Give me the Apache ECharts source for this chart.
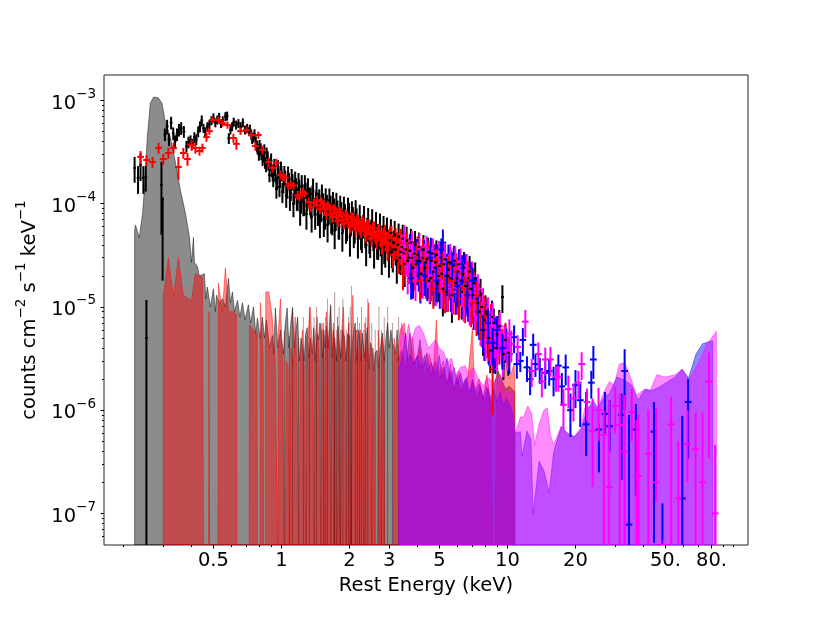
<!DOCTYPE html>
<html>
<head>
<meta charset="utf-8">
<style>html,body{margin:0;background:#fff}#chart{width:830px;height:623px}</style>
<script src="https://cdn.jsdelivr.net/npm/echarts@6/dist/echarts.min.js"></script>
</head>
<body>
<div id="chart"></div>
<script>
// all flux values below are in units of 1e-6 counts cm-2 s-1 keV-1
const UNIT = 1e-6;
const xMin = 0.164, xMax = 116;
const yMin = 4.95e-8, yMax = 1.765e-3;

const xTickValues = [0.5, 1, 2, 3, 5, 10, 20, 50, 80];
const xTickLabels = ['0.5', '1', '2', '3', '5', '10', '20', '50.', '80.'];
const xMinorTicks = [0.2, 0.3, 0.4, 0.6, 0.7, 0.8, 0.9, 4, 6, 7, 8, 9, 30, 40, 60, 70, 90, 100];
const yTickValues = [1e-7, 1e-6, 1e-5, 1e-4, 1e-3];
const yMinorTicks = [6e-8, 7e-8, 8e-8, 9e-8, 2e-7, 3e-7, 4e-7, 5e-7, 6e-7, 7e-7, 8e-7, 9e-7,
    2e-6, 3e-6, 4e-6, 5e-6, 6e-6, 7e-6, 8e-6, 9e-6, 2e-5, 3e-5, 4e-5, 5e-5, 6e-5, 7e-5, 8e-5, 9e-5,
    2e-4, 3e-4, 4e-4, 5e-4, 6e-4, 7e-4, 8e-4, 9e-4];

// background bands, upper edge. 0 means the band drops off the bottom of the plot
const greyE = [0.224, 0.226, 0.235, 0.243, 0.246, 0.255, 0.263, 0.272, 0.285, 0.296, 0.305, 0.322, 0.338, 0.357, 0.376, 0.392, 0.4, 0.408, 0.412, 0.425, 0.433, 0.456, 0.463, 0.47, 0.485, 0.5, 0.51, 0.516, 0.53, 0.548, 0.565, 0.583, 0.595, 0.607, 0.62, 0.639, 0.655, 0.672, 0.69, 0.714, 0.73, 0.752, 0.77, 0.783, 0.805, 0.824, 0.84, 0.858, 0.885, 0.912, 0.925, 0.94, 0.965, 0.99,
    1.0, 1.02, 1.04, 1.06, 1.08, 1.1, 1.12, 1.14, 1.16, 1.18, 1.2, 1.22, 1.24, 1.26, 1.28, 1.3, 1.32, 1.345, 1.37, 1.39, 1.41, 1.44, 1.46, 1.48, 1.5, 1.52, 1.54, 1.56, 1.58, 1.61, 1.65, 1.68, 1.7, 1.71, 1.715, 1.72, 1.75, 1.78, 1.8, 1.83, 1.86, 1.9, 1.93, 1.96, 2, 2.02, 2.04, 2.045, 2.05, 2.08, 2.12, 2.15, 2.19, 2.22, 2.25, 2.28, 2.33, 2.37, 2.4, 2.44, 2.48, 2.52, 2.56, 2.6, 2.65, 2.69, 2.74, 2.8, 2.85, 2.9, 2.95, 3, 3.05, 3.1, 3.2, 3.25, 3.3,
    3.4, 3.55, 3.7, 3.85, 4, 4.1, 4.25, 4.4, 4.6, 4.8, 5, 5.2, 5.4, 5.6, 5.8, 6, 6.2, 6.5, 6.8, 7, 7.3, 7.6, 7.9, 8.2, 8.5, 8.8, 9.1, 9.4, 9.8, 10.2, 10.5, 10.75];
const greyTop = [55, 62, 47, 81, 116, 443, 945, 1080, 1060, 945, 647, 443, 265, 136, 81, 47, 27, 47, 27, 24.6, 20, 21, 12, 15.6, 10, 15, 9, 13, 11, 12, 10, 19, 11, 14, 9, 11.6, 8, 11, 7.5, 10.5, 7, 10, 5.5, 7.8, 5, 8, 5, 7.5, 4, 5.3, 3.5, 9.8, 4, 6,
    5, 3.5, 7, 9.8, 4, 7, 9.8, 4, 6, 8, 3, 5, 4.1, 3, 5.5, 6.3, 3.2, 5, 3.5, 6.3, 3, 5.5, 4.8, 7, 6, 3.2, 6, 4, 6.5, 4, 10.5, 3.2, 6, 0, 0, 5, 3, 6.5, 4.6, 3.2, 6, 5.1, 3, 5.5, 5.3, 3, 0, 0, 4, 5.5, 7, 3, 6, 5.3, 3, 5.6, 3.2, 5, 6.3, 2.5, 4.5, 3.8, 2.4, 3.6, 3.8, 2.5, 4, 5.6, 3, 5, 7, 4, 6, 4.5, 3.5, 6, 3,
    3.8, 2.5, 5.6, 2.8, 3.4, 4.8, 2.6, 3.6, 2.2, 3, 2, 2.6, 1.8, 2.4, 1.6, 2.2, 1.5, 2, 1.4, 1.9, 1.3, 1.7, 1.2, 1.6, 1.1, 1.9, 2.4, 2, 1.6, 1.7, 1.6, 1.5];

const redBandE = [0.3, 0.316, 0.333, 0.35, 0.368, 0.4, 0.416, 0.447, 0.452, 0.476, 0.478, 0.481, 0.524, 0.526, 0.548, 0.565, 0.583, 0.613, 0.632, 0.635, 0.72, 0.722, 0.752, 0.78, 0.783, 0.805, 0.807, 0.83, 0.833, 0.85, 0.852, 0.88, 0.91, 0.94, 0.96, 0.965,
    0.97, 0.99, 1.01, 1.03, 1.04, 1.05, 1.07, 1.08, 1.09, 1.1, 1.13, 1.15, 1.17, 1.19, 1.2, 1.21, 1.24, 1.26, 1.28, 1.29, 1.3, 1.34, 1.37, 1.39, 1.4, 1.41, 1.44, 1.47, 1.49, 1.5, 1.51, 1.54, 1.56, 1.57, 1.58, 1.61, 1.63, 1.65, 1.66, 1.67, 1.7, 1.73, 1.75, 1.76, 1.77, 1.8, 1.82, 1.83, 1.85, 1.88, 1.91, 1.93, 1.94, 1.96, 1.99, 2.01, 2.02, 2.04, 2.07, 2.1, 2.12, 2.13, 2.15, 2.19, 2.21, 2.22, 2.24, 2.28, 2.31, 2.32, 2.34, 2.38, 2.43, 2.47, 2.5, 2.52, 2.54, 2.57, 2.58, 2.66, 2.68, 2.72, 2.76, 2.78, 2.8, 2.84, 2.86, 3.13,
    3.15, 3.25, 3.35, 3.5, 3.65, 3.8, 3.95, 4.1, 4.3, 4.5, 4.7, 4.85, 4.95, 5.2, 5.4, 5.6, 5.8, 6.1, 6.4, 6.7, 7, 7.15, 7.5, 7.8, 8.1, 8.4, 8.6, 8.8, 9, 9.3, 9.6, 9.8, 10.2, 10.7, 10.8];
const redBandTop = [12.5, 30, 12.5, 30, 13, 11.5, 21, 19.5, 0, 0, 9, 0, 0, 17, 9, 24, 9, 9, 8.5, 0, 0, 6.7, 6, 5.5, 0, 0, 11, 3.4, 0, 0, 14, 14, 8, 2.8, 0, 0,
    6, 12, 3, 0, 0, 3, 2.6, 0, 0, 4, 2.8, 8, 2.5, 0, 0, 3, 6, 2.6, 0, 0, 4, 10, 4, 0, 0, 5, 8, 3, 0, 0, 7, 3.5, 0, 0, 9, 4, 6, 0, 0, 4, 7, 3, 0, 0, 8, 3, 0, 0, 6, 10, 3, 0, 0, 5, 7, 0, 0, 5, 13, 3, 0, 0, 6, 3.5, 0, 0, 6, 3, 0, 0, 7, 3, 11, 3.5, 0, 0, 4, 3, 0, 0, 6, 3, 0, 0, 5, 3, 0, 0,
    5, 3, 6, 7, 2.5, 5, 2.2, 4, 2, 3.5, 2.4, 7.5, 2.2, 3, 1.8, 2.8, 1.5, 2.4, 1.5, 2.2, 6.3, 1.6, 2, 1.3, 2.2, 1.3, 0, 0, 2.6, 1.7, 2.4, 3.2, 2, 2.8, 1.5];

// band edges that fall to the bottom of the plot and show as dark stripes
const stripeE = [1.03, 1.085, 1.12, 1.19, 1.25, 1.285, 1.33, 1.395, 1.43, 1.495, 1.535, 1.565, 1.6, 1.655, 1.72, 1.755, 1.8, 1.825, 1.87, 1.935, 1.98, 2.015, 2.04, 2.125, 2.17, 2.215, 2.26, 2.315, 2.36, 2.41, 2.51, 2.6, 2.7, 2.77, 2.85, 2.95, 3.1, 3.3];
const stripeTop = [3, 2.6, 5, 2.5, 4, 2.6, 5, 4, 5, 3, 3.5, 4, 6, 5, 7, 3, 5, 3, 6, 3, 4, 5, 8, 3, 4, 3.5, 5, 3, 4, 6, 3.5, 3, 5, 3, 4, 5, 3.5, 4];

const blueBandE = [3.31, 3.42, 3.54, 3.62, 3.7, 3.85, 4, 4.15, 4.3, 4.45, 4.6, 4.8, 5, 5.15, 5.4, 5.6, 5.8, 6, 6.2, 6.4, 6.6, 6.8, 7, 7.2, 7.5, 7.8, 8.1, 8.4, 8.7, 9, 9.3, 9.6, 9.9, 10.3, 10.6, 10.8, 11.4, 11.6, 12.2, 12.7, 13, 13.8, 14.5, 15.3, 16, 17.3, 18.4, 19.8, 21.2, 22.3, 23.9, 25.1, 26.9, 28.3, 30.5, 33, 35.4, 37.9, 40.6, 43.3, 46.5, 55.3, 59.3, 63.3, 68.3, 73, 81];
const blueBandTop = [2.5, 3.2, 5.6, 3, 3.5, 2.8, 3.4, 2.6, 3.4, 2.4, 2.9, 2.2, 3.4, 2, 3.2, 2, 2.6, 1.8, 2.3, 1.7, 2.1, 1.5, 2, 1.5, 1.8, 1.3, 1.7, 1.3, 1.6, 1.2, 1.5, 1.1, 1.3, 1.1, 0.9, 0.6, 0.62, 0.36, 0.63, 0.52, 0.1, 0.32, 0.26, 0.16, 0.39, 0.69, 0.6, 0.55, 0.65, 0.95, 1.25, 1.05, 1.35, 1.45, 2.1, 1.95, 1.75, 1.25, 1.6, 1.55, 1.65, 2.1, 2.5, 2.05, 3.5, 4.4, 4.7];

const magBandE = [3.31, 3.4, 3.54, 3.65, 3.76, 3.92, 4.08, 4.25, 4.47, 4.8, 5, 5.2, 5.43, 5.65, 5.9, 6.2, 6.5, 6.7, 7.06, 7.37, 7.83, 8.15, 8.68, 9.3, 9.8, 10.5, 10.8, 11.4, 11.8, 12.3, 12.8, 13.2, 13.8, 14.5, 15, 15.5, 16, 17.3, 18.4, 19.8, 21.2, 22, 23.5, 25.1, 26.9, 28.3, 29.7, 31.3, 33, 35, 37.2, 40.6, 42.8, 45.8, 49.9, 55.3, 59.3, 63.3, 69.9, 76.5, 84];
const magBandTop = [2.5, 7, 4.5, 6.8, 4.8, 6.3, 6.6, 5.6, 4, 4.8, 4, 3.7, 2.9, 3.2, 2.2, 2.6, 2.7, 2.3, 2.6, 2.1, 1.7, 2.1, 1.85, 2.2, 1.5, 1.5, 0.58, 0.86, 0.86, 1.1, 0.93, 0.46, 0.73, 1, 1.05, 0.58, 0.46, 0.7, 0.6, 0.56, 0.68, 1.05, 1.1, 1.05, 1.55, 1.9, 1.75, 2.8, 2.9, 2.1, 1.4, 1.6, 1.55, 2.2, 2.1, 2.2, 2.5, 1.95, 2.85, 4.4, 5.8];

// points: energy, flux, fractional error
const blackE = [0.224, 0.232, 0.238, 0.245, 0.251, 0.305, 0.312, 0.318, 0.325, 0.332,
    0.338, 0.345, 0.352, 0.36, 0.37, 0.38, 0.388, 0.396, 0.404, 0.412,
    0.42, 0.428, 0.436, 0.444, 0.452, 0.46, 0.47, 0.48, 0.49, 0.5,
    0.51, 0.52, 0.53, 0.54, 0.55, 0.565, 0.575, 0.585, 0.595, 0.605,
    0.615, 0.63, 0.645, 0.66, 0.675, 0.69, 0.705, 0.72, 0.735, 0.75,
    0.77, 0.785, 0.8, 0.815, 0.83, 0.845, 0.86, 0.875, 0.89, 0.905,
    0.92, 0.94, 0.955, 0.97, 0.985, 1, 1.02, 1.04, 1.06, 1.08,
    1.1, 1.12, 1.14, 1.16, 1.18, 1.2, 1.22, 1.24, 1.26, 1.28,
    1.3, 1.32, 1.35, 1.37, 1.4, 1.42, 1.45, 1.47, 1.5, 1.53,
    1.56, 1.59, 1.62, 1.65, 1.68, 1.71, 1.74, 1.77, 1.8, 1.84,
    1.87, 1.91, 1.95, 1.99, 2.03, 2.07, 2.11, 2.15, 2.2, 2.25,
    2.3, 2.35, 2.4, 2.45, 2.5, 2.55, 2.6, 2.65, 2.7, 2.75,
    2.8, 2.85, 2.9, 2.96, 3.02, 3.08, 3.14, 3.2, 3.27, 3.34,
    3.41, 3.48, 3.55, 3.62, 3.7, 3.78, 3.86, 3.94, 4.02, 4.1,
    4.2, 4.3, 4.4, 4.5, 4.6, 4.7, 4.8, 4.9, 5, 5.12,
    5.24, 5.36, 5.48, 5.6, 5.75, 5.9, 6.05, 6.2, 6.35, 6.5,
    6.7, 6.9, 7.1, 7.3, 7.5, 7.7, 7.9, 8.1, 8.4, 8.7,
    9, 9.5, 9.8, 10.1,
    0.725, 0.742, 0.76, 0.78, 0.795, 0.81, 0.825, 0.84, 0.855, 0.87,
    0.885, 0.9, 0.915, 0.93, 0.95, 0.965, 0.98, 0.995, 1.01, 1.03,
    1.05, 1.07, 1.09, 1.11, 1.13, 1.15, 1.17, 1.19, 1.21, 1.23,
    1.25, 1.27, 1.29, 1.31, 1.34, 1.36, 1.38, 1.41, 1.43, 1.46,
    1.48, 1.51, 1.54, 1.57, 1.6, 1.63, 1.66, 1.69, 1.72, 1.75,
    1.79, 1.82, 1.86, 1.89, 1.93, 1.97, 2.01, 2.05, 2.09, 2.13,
    2.18, 2.22, 2.27, 2.32, 2.37, 2.42, 2.47, 2.52, 2.57, 2.62,
    2.68, 2.73, 2.78, 2.83, 2.88, 2.93, 2.99, 3.05, 3.11, 3.17,
    3.24, 3.3, 3.37, 3.44, 3.51, 3.58, 3.66, 3.74, 3.82, 3.9,
    3.98, 4.06, 4.15, 4.25, 4.35, 4.45, 4.55, 4.65, 4.75, 4.85,
    4.95, 5.06, 5.18, 5.3, 5.42, 5.54, 5.68, 5.82, 5.98, 6.12,
    6.28, 6.42, 6.6, 6.8, 7, 7.2, 7.4, 7.6, 7.8, 8,
    8.25, 8.55, 8.85, 9.2, 9.6];
const blackY = [222, 178, 237, 178, 182, 470, 560, 420, 610, 480,
    400, 470, 520, 540, 500, 360, 395, 410, 380, 440,
    420, 500, 560, 640, 540, 500, 560, 590, 640, 680,
    610, 650, 690, 600, 640, 700, 710, 430, 520, 560,
    620, 580, 600, 560, 610, 520, 540, 500, 470, 440,
    400, 340, 370, 300, 290, 250, 310, 240, 240, 210,
    170, 190, 160, 205, 170, 200, 150, 180, 135, 170,
    128, 165, 120, 150, 105, 145, 100, 130, 95, 135,
    105, 120, 90, 125, 95, 110, 78, 115, 85, 105,
    72, 100, 80, 98, 65, 92, 72, 88, 60, 85,
    70, 80, 58, 82, 65, 75, 55, 72, 60, 48,
    62, 50, 58, 44, 56, 47, 52, 40, 50, 43,
    48, 36, 46, 40, 44, 34, 42, 36, 40, 30,
    38, 33, 36, 28, 35, 30, 33, 26, 32, 28,
    30, 24, 29, 18, 28, 22, 27, 17, 25, 21,
    26, 14, 23, 19, 25, 17, 22, 18, 21, 16,
    19, 15, 17, 12, 9, 10, 7.5, 8.5, 3.8, 7,
    5.4, 12.5, 4.8, 3.6,
    520, 430, 470, 360, 300, 340, 270, 330, 235, 280,
    190, 260, 200, 230, 140, 220, 145, 210, 130, 190,
    120, 185, 115, 175, 100, 165, 115, 160, 85, 150,
    105, 150, 80, 140, 110, 75, 135, 80, 125, 100,
    68, 120, 70, 110, 62, 108, 75, 100, 55, 98,
    68, 92, 52, 90, 62, 88, 48, 80, 58, 82,
    46, 74, 52, 72, 40, 68, 48, 66, 38, 62,
    46, 60, 34, 56, 40, 54, 32, 52, 36, 50,
    28, 48, 34, 46, 26, 44, 30, 42, 24, 40,
    28, 38, 21, 36, 27, 34, 19, 33, 24, 32,
    20, 30, 15, 29, 20, 27, 13, 28, 19, 26,
    14, 24, 16, 22, 13, 19, 11, 13, 6, 9,
    5, 8, 4, 6.5, 3.5];
const blackErr = [0.28, 0.3, 0.3, 0.3, 0.28, 0.14, 0.16, 0.14, 0.14, 0.14,
    0.15, 0.14, 0.14, 0.14, 0.13, 0.13, 0.13, 0.12, 0.12, 0.12,
    0.12, 0.12, 0.12, 0.12, 0.1, 0.1, 0.1, 0.1, 0.1, 0.1,
    0.1, 0.1, 0.1, 0.1, 0.1, 0.1, 0.1, 0.12, 0.1, 0.1,
    0.1, 0.1, 0.1, 0.1, 0.1, 0.1, 0.1, 0.1, 0.11, 0.11,
    0.12, 0.12, 0.12, 0.12, 0.13, 0.13, 0.13, 0.13, 0.14, 0.14,
    0.15, 0.15, 0.15, 0.15, 0.16, 0.16, 0.16, 0.16, 0.17, 0.17,
    0.17, 0.17, 0.18, 0.18, 0.18, 0.18, 0.2, 0.18, 0.2, 0.18,
    0.2, 0.2, 0.2, 0.2, 0.2, 0.2, 0.22, 0.2, 0.22, 0.2,
    0.22, 0.22, 0.22, 0.22, 0.24, 0.22, 0.24, 0.22, 0.25, 0.22,
    0.24, 0.24, 0.25, 0.24, 0.25, 0.24, 0.25, 0.25, 0.25, 0.26,
    0.26, 0.26, 0.26, 0.26, 0.26, 0.26, 0.28, 0.28, 0.28, 0.28,
    0.28, 0.28, 0.28, 0.3, 0.3, 0.3, 0.3, 0.3, 0.3, 0.3,
    0.3, 0.3, 0.3, 0.3, 0.3, 0.3, 0.32, 0.32, 0.32, 0.32,
    0.32, 0.32, 0.32, 0.34, 0.32, 0.34, 0.34, 0.34, 0.34, 0.34,
    0.34, 0.36, 0.34, 0.36, 0.34, 0.36, 0.36, 0.36, 0.36, 0.36,
    0.36, 0.38, 0.36, 0.38, 0.38, 0.38, 0.38, 0.38, 0.4, 0.38,
    0.4, 0.3, 0.4, 0.4,
    0.12, 0.12, 0.12, 0.13, 0.13, 0.13, 0.14, 0.14, 0.14, 0.15,
    0.15, 0.18, 0.18, 0.18, 0.2, 0.2, 0.2, 0.22, 0.22, 0.22,
    0.24, 0.24, 0.26, 0.24, 0.26, 0.24, 0.26, 0.24, 0.28, 0.26,
    0.28, 0.26, 0.3, 0.26, 0.3, 0.3, 0.3, 0.3, 0.28, 0.28,
    0.32, 0.28, 0.32, 0.28, 0.32, 0.3, 0.32, 0.3, 0.34, 0.3,
    0.34, 0.3, 0.34, 0.3, 0.34, 0.3, 0.36, 0.32, 0.36, 0.32,
    0.36, 0.32, 0.36, 0.32, 0.38, 0.34, 0.38, 0.34, 0.38, 0.34,
    0.38, 0.34, 0.4, 0.36, 0.4, 0.36, 0.4, 0.36, 0.4, 0.36,
    0.4, 0.34, 0.4, 0.36, 0.4, 0.36, 0.4, 0.36, 0.42, 0.36,
    0.42, 0.38, 0.42, 0.38, 0.42, 0.38, 0.44, 0.38, 0.44, 0.38,
    0.44, 0.4, 0.46, 0.4, 0.44, 0.4, 0.46, 0.4, 0.44, 0.4,
    0.46, 0.42, 0.46, 0.42, 0.46, 0.42, 0.46, 0.44, 0.44, 0.44,
    0.44, 0.44, 0.44, 0.44, 0.44];
// points whose bars are far from symmetric: energy, flux, low, high (low 0 = off the plot)
const blackWideE = [0.2526, 0.2945, 0.298];
const blackWideY = [5, 152, 110];
const blackWideLo = [0, 50, 18];
const blackWideHi = [11.7, 255, 115];

const redE = [0.238, 0.253, 0.269, 0.286, 0.3, 0.316, 0.333, 0.35, 0.368, 0.384,
    0.4, 0.416, 0.434, 0.447, 0.466, 0.48, 0.495, 0.526, 0.548, 0.577,
    0.613, 0.632, 0.659, 0.7, 0.736, 0.767, 0.79, 0.824, 0.876, 0.912,
    0.95, 0.99, 1.04, 1.1, 1.18, 1.24, 1.32, 1.39, 1.44, 1.5,
    1.55, 1.6, 1.65, 1.7, 1.75, 1.8, 1.86, 1.92, 1.98, 2.04,
    2.1, 2.16, 2.22, 2.28, 2.34, 2.4, 2.47, 2.54, 2.61, 2.68,
    2.75, 2.83, 2.91, 2.99, 3.07, 3.15, 3.24, 3.33, 3.42, 3.52,
    3.62, 3.72, 3.83, 3.94, 4.05, 4.17, 4.29, 4.41, 4.54, 4.67,
    4.8, 4.94, 5.08, 5.23, 5.38, 5.54, 5.7, 5.87, 6.04, 6.22,
    6.4, 6.6, 6.8, 7, 7.2, 7.4, 7.6, 7.8, 8, 8.3,
    8.9, 9.2, 9.5, 9.8,
    1.02, 1.07, 1.13, 1.2, 1.27, 1.35, 1.43, 1.48, 1.53, 1.58,
    1.63, 1.68, 1.72, 1.78, 1.83, 1.89, 1.95, 2.01, 2.07, 2.13,
    2.19, 2.25, 2.31, 2.37, 2.43, 2.5, 2.57, 2.64, 2.71, 2.79,
    2.87, 2.95, 3.03, 3.11, 3.2, 3.28, 3.38, 3.47, 3.57, 3.67,
    3.77, 3.88, 4, 4.11, 4.23, 4.35, 4.48, 4.6, 4.73, 4.87,
    5, 5.15, 5.3, 5.46, 5.62, 5.78, 5.95, 6.13, 6.3, 6.5,
    6.7, 6.9, 7.1, 7.3, 7.5, 7.7, 7.9, 8.15, 8.45, 8.75];
const redY = [284, 265, 253, 347, 271, 310, 347, 227, 310, 271,
    370, 347, 324, 347, 442, 505, 647, 647, 605, 579,
    433, 380, 505, 518, 463, 362, 463, 332, 253, 222,
    248, 190, 178, 152, 121, 130, 104, 102, 97, 105,
    88, 96, 80, 90, 75, 84, 70, 78, 66, 74,
    62, 70, 58, 66, 55, 62, 52, 58, 48, 54,
    46, 50, 42, 47, 50, 38, 42, 36, 40, 28,
    36, 30, 33, 26, 31, 27, 29, 24, 28, 23,
    26, 21, 25, 20, 24, 18, 22, 17, 20, 16,
    19, 15, 17, 13, 14, 10, 9.5, 7, 8.5, 6,
    5, 4.6, 4.4, 5,
    180, 150, 150, 115, 125, 92, 108, 88, 100, 78,
    92, 74, 88, 68, 82, 64, 76, 60, 72, 56,
    68, 54, 64, 50, 60, 46, 58, 44, 54, 40,
    52, 36, 50, 32, 46, 30, 44, 26, 40, 26,
    38, 23, 36, 22, 34, 20, 32, 19, 30, 18,
    30, 16, 28, 15, 26, 14, 24, 13, 22, 12,
    20, 11, 16, 9, 12, 7, 9, 5.5, 7.5, 4.5];
const redErr = [0.14, 0.12, 0.12, 0.12, 0.12, 0.12, 0.12, 0.25, 0.12, 0.14,
    0.12, 0.12, 0.1, 0.1, 0.1, 0.08, 0.08, 0.08, 0.08, 0.08,
    0.1, 0.12, 0.08, 0.08, 0.08, 0.1, 0.08, 0.1, 0.1, 0.1,
    0.1, 0.1, 0.1, 0.1, 0.1, 0.1, 0.1, 0.1, 0.1, 0.1,
    0.1, 0.1, 0.1, 0.1, 0.12, 0.12, 0.12, 0.12, 0.12, 0.12,
    0.12, 0.12, 0.14, 0.14, 0.14, 0.14, 0.16, 0.16, 0.16, 0.16,
    0.18, 0.18, 0.2, 0.2, 0.22, 0.26, 0.26, 0.26, 0.26, 0.3,
    0.3, 0.32, 0.3, 0.34, 0.3, 0.32, 0.3, 0.34, 0.3, 0.34,
    0.32, 0.34, 0.32, 0.34, 0.32, 0.36, 0.32, 0.36, 0.34, 0.36,
    0.34, 0.36, 0.36, 0.38, 0.36, 0.38, 0.38, 0.38, 0.38, 0.4,
    0.4, 0.4, 0.4, 0.4,
    0.08, 0.08, 0.08, 0.08, 0.08, 0.1, 0.1, 0.1, 0.1, 0.1,
    0.1, 0.12, 0.12, 0.12, 0.12, 0.12, 0.12, 0.14, 0.14, 0.14,
    0.14, 0.14, 0.14, 0.16, 0.16, 0.16, 0.16, 0.18, 0.18, 0.2,
    0.2, 0.22, 0.22, 0.26, 0.26, 0.3, 0.3, 0.36, 0.32, 0.36,
    0.34, 0.38, 0.34, 0.38, 0.36, 0.4, 0.36, 0.4, 0.36, 0.4,
    0.36, 0.4, 0.36, 0.4, 0.38, 0.4, 0.38, 0.4, 0.38, 0.42,
    0.4, 0.42, 0.4, 0.42, 0.42, 0.42, 0.42, 0.42, 0.42, 0.42];
const redWideE = [8.6];
const redWideY = [2.5];
const redWideLo = [0.9];
const redWideHi = [6.5];
// red and blue bins that lie over the magenta ones
const redOverE = [3.3, 3.45, 3.6, 3.8, 3.95, 4.1, 4.25, 4.4, 4.55, 4.7, 4.85, 5, 5.15, 5.3, 5.5, 5.7, 5.9, 6.1, 6.3, 6.5, 6.75, 7, 7.3, 7.6, 7.9, 8.3];
const redOverY = [42, 22, 36, 25, 33, 18, 30, 24, 29, 15, 28, 20, 26, 14, 24, 18, 22, 12, 21, 15, 18, 11, 13, 8, 8, 5];
const redOverErr = [0.24, 0.34, 0.26, 0.3, 0.26, 0.36, 0.28, 0.3, 0.28, 0.36, 0.3, 0.32, 0.3, 0.38, 0.3, 0.32, 0.32, 0.38, 0.32, 0.34, 0.34, 0.38, 0.36, 0.4, 0.38, 0.4];
const blueOverE = [3.75, 4.05, 4.3, 4.55, 4.85, 5.1, 5.4, 5.7, 6, 6.3, 6.65, 7, 7.4, 7.8, 8.2, 8.6, 9, 9.5];
const blueOverY = [19, 27, 20, 30, 18, 36, 20, 26, 16, 24, 13, 18, 9, 6, 7, 4.5, 6, 4];
const blueOverErr = [0.38, 0.32, 0.36, 0.3, 0.38, 0.28, 0.36, 0.3, 0.38, 0.32, 0.38, 0.34, 0.4, 0.4, 0.38, 0.4, 0.36, 0.38];

const blueE = [3.6, 3.75, 3.9, 4.05, 4.2, 4.35, 4.5, 4.65, 4.8, 4.95,
    5.1, 5.25, 5.4, 5.55, 5.7, 5.85, 6, 6.2, 6.4, 6.6,
    6.8, 7, 7.2, 7.4, 7.6, 7.8, 8, 8.2, 8.4, 8.6,
    8.8, 9, 9.3, 9.6, 9.9, 10.2, 10.7, 11.7, 11, 11.4,
    12.2, 12.6, 13, 13.3, 13.9, 14.7, 15.3, 16, 16.8, 17.4,
    18.1, 19, 20, 21, 23.5, 24,
    3.7, 3.82, 3.98, 4.12, 4.28, 4.42, 4.58, 4.72, 4.88, 5.02,
    5.18, 5.32, 5.48, 5.62, 5.78, 5.92, 6.1, 6.3, 6.5, 6.7,
    6.9, 7.1, 7.3, 7.5, 7.7, 7.9, 8.1, 8.3, 8.5, 8.7];
const blueY = [32, 24, 30, 22, 28, 26, 24, 20, 30, 22,
    26, 20, 24, 20, 22, 18, 20, 17, 19, 14,
    16, 14, 15, 11, 8, 6.5, 7.5, 5.5, 6.5, 4.5,
    6, 4.2, 5.2, 3.8, 4.6, 3.5, 5.1, 4.8, 2.8, 3,
    2.6, 2, 4.3, 2.8, 2.5, 2.3, 2.4, 2, 2.7, 1.7,
    2.6, 1, 1.75, 1.25, 1.85, 3.1,
    38, 20, 34, 18, 33, 19, 35, 17, 30, 16,
    42, 18, 30, 15, 28, 14, 26, 13, 24, 12,
    20, 10, 14, 8, 10, 5, 8, 4.5, 7, 3.8];
const blueErr = [0.32, 0.36, 0.32, 0.36, 0.34, 0.34, 0.34, 0.36, 0.34, 0.36,
    0.36, 0.38, 0.36, 0.38, 0.36, 0.38, 0.36, 0.38, 0.36, 0.38,
    0.36, 0.38, 0.36, 0.38, 0.38, 0.38, 0.38, 0.38, 0.36, 0.38,
    0.36, 0.36, 0.34, 0.36, 0.34, 0.36, 0.3, 0.3, 0.28, 0.22,
    0.28, 0.3, 0.28, 0.25, 0.28, 0.3, 0.28, 0.32, 0.28, 0.35,
    0.33, 0.45, 0.4, 0.45, 0.3, 0.35,
    0.34, 0.4, 0.34, 0.4, 0.34, 0.4, 0.34, 0.4, 0.34, 0.4,
    0.34, 0.4, 0.34, 0.4, 0.34, 0.4, 0.36, 0.4, 0.36, 0.4,
    0.36, 0.4, 0.36, 0.4, 0.38, 0.4, 0.38, 0.4, 0.38, 0.4];
const blueWideE = [22.3, 25.4, 27, 28.3, 32, 33, 34.5, 37, 44.5, 48.5, 59.4, 63];
const blueWideY = [0.73, 0.65, 0.92, 0.7, 0.9, 2.4, 0.078, 0.65, 0.62, 0.04, 0.14, 1.2];
const blueWideLo = [0.36, 0.25, 0.6, 0.4, 0.21, 1, 0, 0.15, 0.052, 0, 0, 0.34];
const blueWideHi = [1.5, 0.73, 1.5, 1.25, 1.45, 3.9, 0.9, 1.15, 1.2, 0.125, 0.88, 2];

const magE = [3.4, 3.55, 3.7, 3.85, 4, 4.15, 4.3, 4.45, 4.6, 4.75,
    4.9, 5.05, 5.2, 5.35, 5.5, 5.65, 5.8, 5.95, 6.1, 6.3,
    6.5, 6.7, 6.9, 7.1, 7.3, 7.5, 7.7, 7.9, 8.1, 8.3,
    8.5, 8.8, 9.1, 9.4, 9.7, 10, 10.4, 12, 11.1, 12.8,
    13.7, 14.2, 14.7, 15.5, 16.4, 16.8, 17.7, 18.6, 19.6, 20.6,
    21.3, 22.5,
    3.5, 3.62, 3.78, 3.92, 4.08, 4.22, 4.38, 4.52, 4.68, 4.82,
    4.98, 5.12, 5.28, 5.42, 5.58, 5.72, 5.88, 6.02, 6.2, 6.4,
    6.6, 6.8, 7, 7.2, 7.4, 7.6, 7.8, 8, 8.2, 8.4,
    8.6, 9, 9.25, 9.55, 10.2];
const magY = [38, 30, 34, 26, 32, 26, 31, 24, 29, 22,
    27, 21, 26, 20, 24, 19, 23, 18, 21, 16,
    19, 15, 17, 13, 12, 9, 8, 6.5, 7.5, 6,
    6.5, 5, 5.5, 4.4, 4.8, 3.8, 4.4, 7.2, 4.1, 2.4,
    3.5, 1.9, 3.1, 3.1, 2.1, 2.1, 1.13, 1.6, 1.3, 1.85,
    2.8, 1.2,
    45, 22, 40, 19, 38, 20, 36, 18, 34, 17,
    32, 16, 30, 15, 30, 14, 28, 14, 27, 12,
    24, 11, 20, 10, 15, 7, 11, 5, 9, 4.5,
    8, 4, 6.5, 3.5, 5.5];
const magErr = [0.32, 0.34, 0.32, 0.34, 0.32, 0.34, 0.32, 0.36, 0.32, 0.36,
    0.34, 0.36, 0.34, 0.36, 0.34, 0.36, 0.34, 0.38, 0.34, 0.38,
    0.36, 0.38, 0.36, 0.38, 0.38, 0.38, 0.38, 0.38, 0.38, 0.38,
    0.38, 0.36, 0.38, 0.36, 0.36, 0.36, 0.34, 0.3, 0.3, 0.3,
    0.3, 0.3, 0.3, 0.32, 0.28, 0.28, 0.42, 0.35, 0.4, 0.3,
    0.3, 0.35,
    0.38, 0.4, 0.36, 0.4, 0.36, 0.4, 0.36, 0.4, 0.36, 0.4,
    0.36, 0.4, 0.36, 0.4, 0.36, 0.4, 0.36, 0.4, 0.36, 0.4,
    0.36, 0.4, 0.38, 0.4, 0.38, 0.4, 0.38, 0.4, 0.38, 0.4,
    0.38, 0.4, 0.38, 0.4, 0.38];
const magWideE = [23.8, 25.3, 26.7, 28.2, 30, 31.4, 33, 35.5, 37.2, 38, 42, 45.5, 49, 53, 57, 62.6, 68, 73, 78, 83];
const magWideY = [0.63, 1, 0.58, 0.18, 1.1, 0.72, 0.4, 0.96, 0.23, 0.23, 0.38, 0.2, 0.03, 0.73, 0.14, 0.47, 0.42, 0.2, 1.9, 0.1];
const magWideLo = [0.18, 0.5, 0, 0, 0.6, 0, 0, 0.5, 0, 0, 0, 0.13, 0, 0, 0, 0.2, 0, 0, 0.34, 0];
const magWideHi = [1.3, 1.65, 1, 1.25, 1.7, 1.45, 1.4, 1.6, 0.8, 0.9, 1, 1.05, 0.055, 1.35, 0.5, 1, 0.95, 0.95, 3.6, 0.46];

const clampY = v => Math.max(v * UNIT, yMin);
const noWide = [[], [], [], []];

function band(xs, tops, color) {
    const rows = xs.map((e, i) => [e, clampY(tops[i])]);
    return {
        type: 'custom',
        silent: true,
        clip: true,
        progressive: 0,
        data: rows,
        encode: { x: 0, y: 1 },
        renderItem: (params, api) => {
            if (params.dataIndex !== 0) return null;
            const pts = rows.map(r => api.coord(r));
            pts.unshift(api.coord([rows[0][0], yMin]));
            pts.push(api.coord([rows[rows.length - 1][0], yMin]));
            return {
                type: 'polygon',
                shape: { points: pts },
                style: { fill: color, stroke: color, lineWidth: 1 },
            };
        },
    };
}

function errorBars(xs, ys, errs, wide, color, xFrac, keep, lineWidth) {
    const rows = xs.map((e, i) => [e, clampY(ys[i]), clampY(ys[i] * (1 - errs[i])), clampY(ys[i] * (1 + errs[i]))]);
    wide[0].forEach((e, i) => rows.push([e, clampY(wide[1][i]), clampY(wide[2][i]), clampY(wide[3][i])]));
    return {
        type: 'custom',
        silent: true,
        clip: true,
        progressive: 0,
        data: keep ? rows.filter(keep) : rows,
        encode: { x: 0, y: 1 },
        renderItem: (params, api) => {
            const e = api.value(0), y = api.value(1);
            const lo = api.coord([e, api.value(2)]), hi = api.coord([e, api.value(3)]);
            const l = api.coord([e / xFrac, y]), r = api.coord([e * xFrac, y]);
            const stroke = { stroke: color, lineWidth: lineWidth || 2 };
            return {
                type: 'group',
                children: [
                    { type: 'line', shape: { x1: lo[0], y1: lo[1], x2: hi[0], y2: hi[1] }, style: stroke },
                    { type: 'line', shape: { x1: l[0], y1: l[1], x2: r[0], y2: r[1] }, style: stroke },
                ],
            };
        },
    };
}

const BLACK = '#000000', RED = '#ff0000', BLUE = '#0000ff', MAGENTA = '#ff00ff';
const richText = {
    a: { fontSize: 19.5, color: '#000', fontFamily: 'DejaVu Sans', lineHeight: 26, verticalAlign: 'bottom' },
    b: { fontSize: 13.5, color: '#000', fontFamily: 'DejaVu Sans', lineHeight: 26, verticalAlign: 'top' },
};

const option = {
    backgroundColor: '#fff',
    animation: false,
    textStyle: { fontFamily: 'DejaVu Sans' },
    grid: { left: 104, right: 82, top: 75, height: 470, show: true, borderColor: '#222', borderWidth: 1, backgroundColor: 'transparent' },
    xAxis: [{
        type: 'log', logBase: 10, min: xMin, max: xMax, position: 'bottom',
        name: 'Rest Energy (keV)', nameLocation: 'middle', nameGap: 29,
        nameTextStyle: { fontSize: 19.5, color: '#000', fontFamily: 'DejaVu Sans' },
        axisLine: { show: false },
        splitLine: { show: false },
        minorTick: { show: false },
        axisTick: { show: true, length: 3.5, customValues: xTickValues, lineStyle: { color: '#000' } },
        axisLabel: {
            show: true, margin: 6, fontSize: 19.5, color: '#000', fontFamily: 'DejaVu Sans',
            customValues: xTickValues,
            formatter: v => xTickLabels[xTickValues.findIndex(t => Math.abs(t - v) < t * 1e-6)],
        },
    }, {
        type: 'log', logBase: 10, min: xMin, max: xMax, position: 'bottom',
        axisLine: { show: false },
        splitLine: { show: false },
        axisTick: { show: true, length: 2, customValues: xMinorTicks, lineStyle: { color: '#000' } },
        axisLabel: { show: false },
    }],
    yAxis: [{
        type: 'log', logBase: 10, min: yMin, max: yMax, position: 'left',
        name: '{a|counts cm}{b|−2}{a| s}{b|−1}{a| keV}{b|−1}', nameLocation: 'middle', nameGap: 51, nameRotate: 90,
        nameTextStyle: { color: '#000', rich: richText },
        axisLine: { show: false },
        splitLine: { show: false },
        minorTick: { show: false },
        axisTick: { show: true, length: 3.5, customValues: yTickValues, lineStyle: { color: '#000' } },
        axisLabel: {
            show: true, margin: 8, color: '#000',
            customValues: yTickValues,
            formatter: v => '{a|10}{b|−' + Math.round(-Math.log10(v)) + '}',
            rich: richText,
        },
    }, {
        type: 'log', logBase: 10, min: yMin, max: yMax, position: 'left',
        axisLine: { show: false },
        splitLine: { show: false },
        axisTick: { show: true, length: 2, customValues: yMinorTicks, lineStyle: { color: '#000' } },
        axisLabel: { show: false },
    }],
    series: [
        band(greyE, greyTop, 'rgba(0,0,0,0.45)'),
        band(redBandE, redBandTop, 'rgba(255,0,0,0.45)'),
        errorBars(stripeE, stripeTop, stripeTop.map(() => 1), noWide, 'rgba(80,0,0,0.4)', 1, null, 1),
        band(blueBandE, blueBandTop, 'rgba(0,0,255,0.45)'),
        band(magBandE, magBandTop, 'rgba(255,0,255,0.45)'),
        errorBars(blackE, blackY, blackErr, [blackWideE, blackWideY, blackWideLo, blackWideHi], BLACK, 1.014),
        errorBars(redE, redY, redErr, [redWideE, redWideY, redWideLo, redWideHi], RED, 1.035),
        errorBars(blueE, blueY, blueErr, [blueWideE, blueWideY, blueWideLo, blueWideHi], BLUE, 1.035),
        errorBars(magE, magY, magErr, [magWideE, magWideY, magWideLo, magWideHi], MAGENTA, 1.035),
        errorBars(redOverE, redOverY, redOverErr, noWide, RED, 1.03),
        errorBars(blueOverE, blueOverY, blueOverErr, noWide, BLUE, 1.03),
        // the black bins above 3 keV sit on top of the magenta ones
        errorBars(blackE, blackY, blackY.map(() => 0.02), noWide, BLACK, 1.014, r => r[0] > 3),
    ],
};

echarts.init(document.getElementById('chart'), null, { renderer: 'canvas' }).setOption(option);
</script>
</body>
</html>
